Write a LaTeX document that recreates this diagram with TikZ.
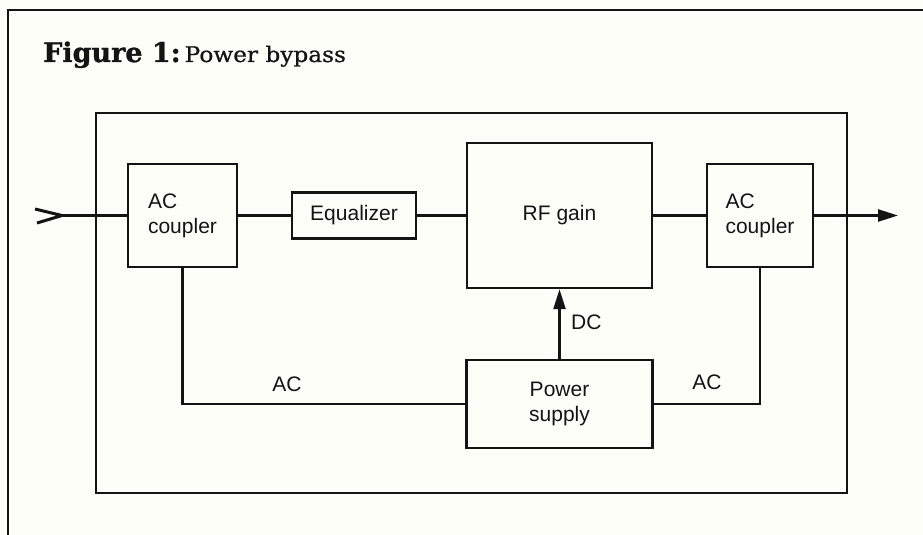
\documentclass[tikz,border=0pt]{standalone}
\usepackage{fontspec}
\setmainfont{Liberation Sans}
\newfontfamily\titlebold[FakeBold=1.2]{DejaVu Serif Bold}
\newfontfamily\titlewide[FakeStretch=1.08,FakeBold=0.8]{DejaVu Serif}
\usetikzlibrary{arrows.meta}
\definecolor{paper}{RGB}{253,254,248}
\definecolor{ink}{RGB}{20,20,18}
\begin{document}
\begin{tikzpicture}[x=1pt,y=-1pt, color=ink, line width=2.4pt,
  blk/.style={draw=ink, line width=2.4pt, inner sep=0pt, text=ink,
              font=\fontsize{21}{25}\selectfont, align=center},
  lbl/.style={text=ink, inner sep=0pt, font=\fontsize{21}{25}\selectfont},
  head/.style={-{Triangle[length=20pt,width=12pt]}}]
\useasboundingbox (0,0) rectangle (923,535);
\fill[paper] (0,0) rectangle (923,535);
% outer frame
\draw[line width=2pt] (8,537) -- (8,10) -- (925,10);
% title
\node[anchor=base west, inner sep=0pt, text=ink] (title) at (42,62)
  {{\titlebold\fontsize{27}{30}\selectfont Figure 1:}\hspace{4pt}{\titlewide\fontsize{21.5}{24}\selectfont Power bypass}};
% inner frame
\draw (96,113) rectangle (847,493);
% blocks
\node[blk, minimum width=109pt, minimum height=103pt, align=left] (lac) at (182.5,215.5) {AC\\coupler};
\node[blk, minimum width=124pt, minimum height=46pt] (eq) at (354,215.5) {Equalizer};
\node[blk, minimum width=185pt, minimum height=145pt] (rf) at (559.5,215.5) {RF gain};
\node[blk, minimum width=106pt, minimum height=103pt, align=left] (rac) at (760,215.5) {AC\\coupler};
\node[blk, minimum width=186pt, minimum height=88pt] (ps) at (559.5,404) {Power\\supply};
% input / output
\coordinate (in) at (62,215.5);
\coordinate (out) at (898,215.5);
\draw[line join=miter, line width=3pt] (35,209) -- (in) -- (37,223);
\draw (in) -- (lac.west);
\draw (lac.east) -- (eq.west);
\draw (eq.east) -- (rf.west);
\draw (rf.east) -- (rac.west);
\draw[head] (rac.east) -- (out);
% power paths
\draw[head] (ps.north) -- (rf.south);
\node[lbl, anchor=west] (dc) at (570,322) {DC};
\draw (lac.south) |- (ps.west);
\node[lbl] (acl) at (287,384) {AC};
\draw (ps.east) -| (rac.south);
\node[lbl] (acr) at (707,382) {AC};
\end{tikzpicture}
\end{document}
